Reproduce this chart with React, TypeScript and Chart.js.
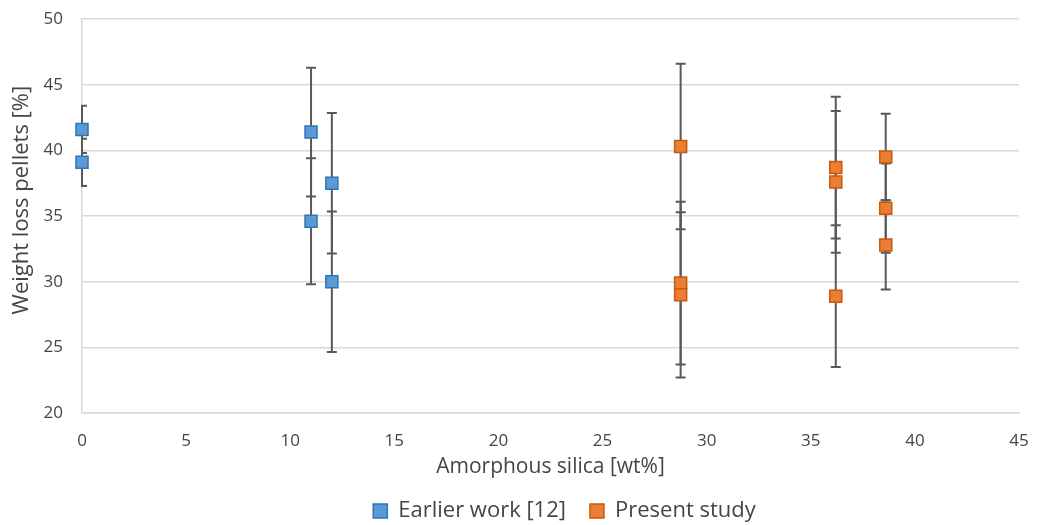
import React, { useEffect, useRef } from "react";
import { Chart, registerables } from "chart.js";

Chart.register(...registerables);

// Earlier work [12]
const earlierX = [0, 0, 11, 11, 12, 12];
const earlierY = [41.6, 39.1, 41.4, 34.6, 37.5, 30.0];
const earlierErr = [1.8, 1.8, 4.9, 4.8, 5.35, 5.35];

// Present study
const presentX = [28.75, 28.75, 28.75, 36.2, 36.2, 36.2, 38.6, 38.6, 38.6];
const presentY = [40.3, 29.9, 29.0, 38.7, 37.6, 28.9, 39.5, 35.6, 32.8];
const presentErr = [6.3, 6.2, 6.3, 5.4, 5.4, 5.4, 3.3, 3.4, 3.4];

const seriesLabels = ["Earlier work [12]", "Present study"];
const xTitle = "Amorphous silica [wt%]";
const yTitle = "Weight loss pellets [%]";
const xMin = 0, xMax = 45, xStep = 5;
const yMin = 20, yMax = 50, yStep = 5;

const FONT = "'Open Sans', 'Noto Sans', sans-serif";
const TEXT = "#454545";
const GRID = "#d9d9d9";

const errorSets = [
  { xs: earlierX, ys: earlierY, err: earlierErr },
  { xs: presentX, ys: presentY, err: presentErr },
];

const errorBarPlugin = {
  id: "errorBars",
  beforeDatasetsDraw(chart: any) {
    const { ctx, chartArea, scales } = chart;
    const sx = scales.x;
    const sy = scales.y;
    ctx.save();
    ctx.beginPath();
    ctx.rect(chartArea.left - 1, chartArea.top - 30, chartArea.right - chartArea.left + 31, chartArea.bottom - chartArea.top + 60);
    ctx.clip();
    ctx.strokeStyle = "#595959";
    ctx.lineWidth = 2;
    const cap = 5;
    errorSets.forEach((s) => {
      s.xs.forEach((xv, i) => {
        const px = sx.getPixelForValue(xv);
        const top = sy.getPixelForValue(s.ys[i] + s.err[i]);
        const bot = sy.getPixelForValue(s.ys[i] - s.err[i]);
        ctx.beginPath();
        ctx.moveTo(px, top);
        ctx.lineTo(px, bot);
        ctx.moveTo(px - cap, top);
        ctx.lineTo(px + cap, top);
        ctx.moveTo(px - cap, bot);
        ctx.lineTo(px + cap, bot);
        ctx.stroke();
      });
    });
    ctx.restore();
  },
};

// nudges the legend row to the right, as in the original figure
const legendShiftPlugin = {
  id: "legendShift",
  afterLayout(chart: any) {
    const lg = chart.legend;
    if (lg) {
      lg.left += 14;
      lg.right += 14;
    }
  },
};

// y-axis title, placed slightly above the plot's vertical centre as in the original
const yTitlePlugin = {
  id: "yTitle",
  afterDraw(chart: any) {
    const { ctx, chartArea } = chart;
    const cy = (chartArea.top + chartArea.bottom) / 2 - 16;
    ctx.save();
    ctx.translate(22, cy);
    ctx.rotate(-Math.PI / 2);
    ctx.fillStyle = TEXT;
    ctx.font = `22px ${FONT}`;
    ctx.textAlign = "center";
    ctx.textBaseline = "middle";
    ctx.fillText(yTitle, 0, 0);
    ctx.restore();
  },
};

export default function App() {
  const ref = useRef<HTMLCanvasElement>(null);
  useEffect(() => {
    const chart = new Chart(ref.current as HTMLCanvasElement, {
      type: "scatter",
      data: {
        datasets: [
          {
            label: seriesLabels[0],
            data: earlierX.map((x, i) => ({ x, y: earlierY[i] })),
            backgroundColor: "#5B9BD5",
            borderColor: "#2E75B6",
            borderWidth: 1.5,
            pointStyle: "rect",
            pointRadius: 8.5,
            pointHoverRadius: 8.5,
            clip: false as any,
          },
          {
            label: seriesLabels[1],
            data: presentX.map((x, i) => ({ x, y: presentY[i] })),
            backgroundColor: "#ED7D31",
            borderColor: "#C55A11",
            borderWidth: 1.5,
            pointStyle: "rect",
            pointRadius: 8.5,
            pointHoverRadius: 8.5,
            clip: false as any,
          },
        ],
      },
      options: {
        animation: false,
        responsive: false,
        events: [],
        layout: { padding: { left: 0, right: 20, top: 19, bottom: 0 } },
        plugins: {
          tooltip: { enabled: false },
          legend: {
            position: "bottom",
            fullSize: false,
            labels: {
              boxWidth: 14,
              boxHeight: 14,
              padding: 24,
              color: TEXT,
              font: { family: FONT, size: 22 },
            },
          },
        },
        scales: {
          x: {
            type: "linear",
            min: xMin,
            max: xMax,
            ticks: { stepSize: xStep, padding: 8, color: TEXT, font: { family: FONT, size: 17 } },
            grid: { display: true, color: "transparent", drawTicks: true, tickLength: 10, tickColor: "transparent" },
            border: { display: true, color: GRID, width: 1.5 },
            title: { display: true, text: xTitle, color: TEXT, font: { family: FONT, size: 21 }, padding: { top: 0, bottom: -4 } },
            afterFit: (scale: any) => {
              const lg = scale.chart.legend;
              const lh = lg && Number.isFinite(lg.height) && lg.height > 0 ? lg.height : 56;
              scale.height = scale.chart.height - lh - 413;
            },
          },
          y: {
            type: "linear",
            min: yMin,
            max: yMax,
            ticks: { stepSize: yStep, padding: 9, color: TEXT, font: { family: FONT, size: 17 } },
            grid: { color: GRID, lineWidth: 1.5, drawTicks: true, tickLength: 10, tickColor: "transparent" },
            border: { display: true, color: GRID, width: 1.5 },
            title: { display: false, text: yTitle },
            afterFit: (scale: any) => {
              scale.width = 82;
            },
          },
        },
      },
      plugins: [errorBarPlugin, legendShiftPlugin, yTitlePlugin],
    });
    return () => chart.destroy();
  }, []);
  return (
    <div style={{ position: "fixed", left: 0, top: 0, width: 1039, height: 525, overflow: "hidden", background: "#fff" }}>
      <canvas ref={ref} width={1039} height={532} style={{ display: "block" }} />
    </div>
  );
}
